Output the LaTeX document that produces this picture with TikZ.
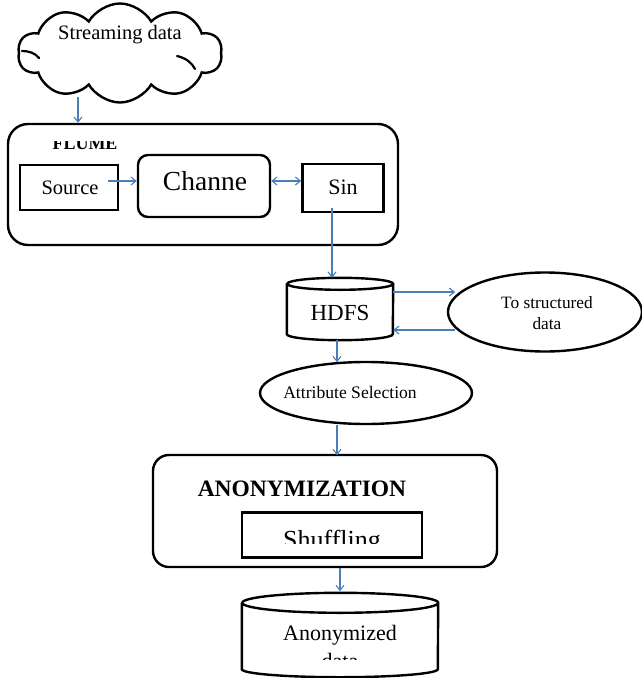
\documentclass[tikz,border=0pt]{standalone}
\usepackage{fontspec}
\setmainfont{Liberation Serif}
\usetikzlibrary{shapes.symbols,shapes.geometric,arrows.meta}

\definecolor{flowblue}{RGB}{74,126,187}

\tikzset{
  box/.style={draw, line width=2.4pt, rectangle, inner sep=0pt},
  roundbox/.style={draw, line width=2.4pt, rectangle, rounded corners=#1, inner sep=0pt},
  oval/.style={draw, line width=2.4pt, ellipse, inner sep=0pt},
  blank/.style={inner sep=0pt, minimum size=0pt},
  arr/.style={draw=flowblue, line width=1.1pt, -{Straight Barb[length=5pt,width=8pt]}},
  darr/.style={draw=flowblue, line width=1.1pt, {Straight Barb[length=5pt,width=8pt]}-{Straight Barb[length=5pt,width=8pt]}},
  tx/.style={inner sep=0pt, font=\fontsize{#1}{#1}\selectfont},
  tx/.default=18,
  cyl/.style={draw, line width=2.4pt}
}

\begin{document}
\begin{tikzpicture}[x=1pt, y=-1pt]
\useasboundingbox (0,0) rectangle (642,678);

% --- incoming stream -------------------------------------------------
\node[draw, line width=2.4pt, cloud, cloud puffs=10, cloud puff arc=120, aspect=2.1,
      minimum width=204pt, minimum height=99pt, inner sep=0pt] (cloud) at (120,53) {};
% small inner curls of the cloud outline
\draw[line width=2.2pt, line cap=round] (22,51) .. controls (29,51) and (35,53) .. (39,58);
\draw[line width=2.2pt, line cap=round] (177,56) .. controls (186,58) and (192,63) .. (195,69);
\node[tx=20.5] (streamtxt) at (120,35) {Streaming data};
\coordinate (cloudfoot) at (78,97);

% --- Flume agent ------------------------------------------------------
\node[roundbox=20pt, minimum width=390pt, minimum height=121pt] (flume) at (203,184.5) {};
\begin{scope}
  \clip (40,141.5) rectangle (140,160);
  \node[anchor=base, inner sep=0pt, font=\fontsize{18}{18}\selectfont\bfseries] (flumetxt) at (85,149) {FLUME};
\end{scope}
\node[box, minimum width=98pt, minimum height=45pt] (src) at (69,187.5) {};
\node[tx=20.5] (srctxt) at (70,187.5) {Source};
\node[roundbox=10pt, minimum width=132pt, minimum height=62pt] (chan) at (204,186) {};
\node[tx=27.5] (chantxt) at (205,181) {Channe};
\node[box, minimum width=81pt, minimum height=48pt] (sin) at (343,188) {};
\node[tx=22] (sintxt) at (343,187) {Sin};

\draw[arr] (cloudfoot) -- (cloudfoot |- flume.north);
\draw[arr] ([xshift=-11pt,yshift=6.5pt]src.east) -- ([yshift=5pt]chan.west);
\draw[darr] ([yshift=5pt]chan.east) -- ([yshift=7pt]sin.west);

% --- HDFS store -------------------------------------------------------
\node[blank, minimum width=106pt, minimum height=62pt] (hdfs) at (340,309) {};
\draw[cyl] ([yshift=-6pt]hdfs.north west) -- ([yshift=6pt]hdfs.south west)
  arc[start angle=180, end angle=360, x radius=53pt, y radius=6pt]
  -- ([yshift=-6pt]hdfs.north east)
  arc[start angle=0, end angle=360, x radius=53pt, y radius=6pt];
\node[tx=23] (hdfstxt) at (340,313) {HDFS};

\draw[arr] ([xshift=-11pt,yshift=5pt]sin.south) -- ([xshift=-8pt]hdfs.north);

\node[oval, minimum width=194pt, minimum height=79pt] (ts) at (545,312) {};
\node[tx=17.3, align=center] (tstxt) at (547,313) {To structured\\[4pt]data};

\draw[arr] ([yshift=17pt]hdfs.east) -- ++(62,0);
\draw[arr] ([xshift=62pt,yshift=-21pt]hdfs.east) -- ([yshift=-21pt]hdfs.east);

% --- attribute selection ----------------------------------------------
\node[oval, minimum width=212pt, minimum height=62pt] (attr) at (366,393) {};
\node[tx=17.6] (attrtxt) at (350,392) {Attribute Selection};
\draw[arr] ([xshift=-3pt]hdfs.south) -- ++(0,22);

% --- anonymization ----------------------------------------------------
\node[roundbox=16pt, minimum width=344pt, minimum height=112pt] (anon) at (325,511) {};
\node[inner sep=0pt, font=\fontsize{23.5}{23.5}\selectfont\bfseries] (anontxt) at (302,489) {ANONYMIZATION};
\node[box, minimum width=180pt, minimum height=45pt] (shuf) at (332,535) {};
\begin{scope}
  \clip (250,515) rectangle (415,543);
  \node[tx=26, anchor=base] (shuftxt) at (332,548) {Shuffling};
\end{scope}
\draw[arr] ([xshift=-29pt]attr.south) -- ++(0,30);

% --- anonymized output store -------------------------------------------
\node[blank, minimum width=196pt, minimum height=84pt] (out) at (340,635) {};
\draw[cyl] ([yshift=-10pt]out.north west) -- ([yshift=8pt]out.south west)
  arc[start angle=180, end angle=360, x radius=98pt, y radius=8pt]
  -- ([yshift=-10pt]out.north east)
  arc[start angle=0, end angle=360, x radius=98pt, y radius=10pt];
\begin{scope}
  \clip (250,615) rectangle (430,659);
  \node[tx=22, anchor=base] (outtxt) at (340,640) {Anonymized};
  \node[tx=22, anchor=base] (outtxt2) at (340,668) {data};
\end{scope}
\draw[arr] ([xshift=15pt]anon.south) -- ++(0,23);

\end{tikzpicture}
\end{document}
